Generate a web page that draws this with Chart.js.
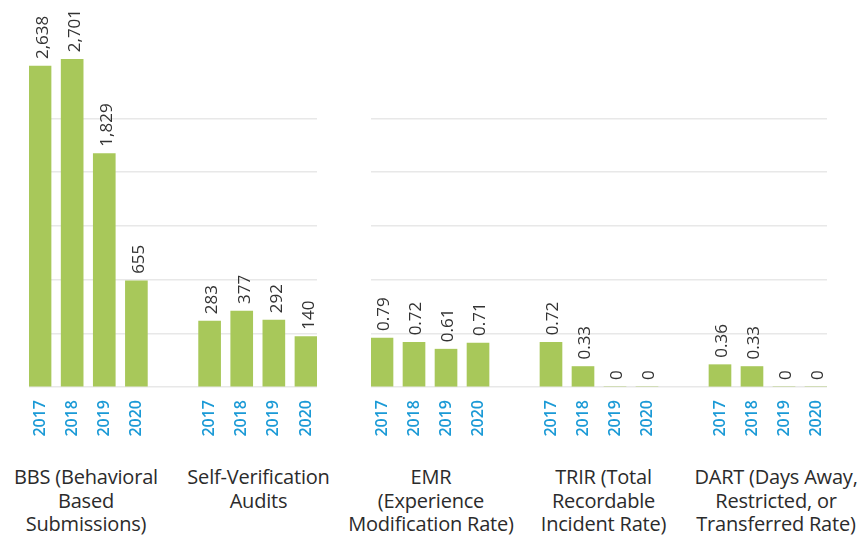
<!DOCTYPE html>
<html>
<head>
<meta charset="utf-8">
<script src="https://cdn.jsdelivr.net/npm/chart.js@4.4.1/dist/chart.umd.min.js"></script>
<style>
body { margin: 0; background: #fff; width: 859px; height: 538px; overflow: hidden; position: relative; font-family: "Open Sans", sans-serif; }
canvas { position: absolute; top: 0; }
#leftChart { left: 0; }
#rightChart { left: 340px; }
.group { position: absolute; top: 465px; width: 190px; margin-left: -95px; text-align: center;
  font-size: 20px; font-weight: 500; line-height: 23.5px; color: #2b2b2b; white-space: nowrap; letter-spacing: -0.2px; }
</style>
</head>
<body>
<canvas id="leftChart" width="340" height="460"></canvas>
<canvas id="rightChart" width="519" height="460"></canvas>
<div id="groups"></div>
<script>
var years = ["2017", "2018", "2019", "2020"];
var groupNames = [
    ["BBS (Behavioral", "Based", "Submissions)"],
    ["Self-Verification", "Audits"],
    ["EMR", "(Experience", "Modification Rate)"],
    ["TRIR (Total", "Recordable", "Incident Rate)"],
    ["DART (Days Away,", "Restricted, or", "Transferred Rate)"]
];
var bbs = [2638, 2701, 1829, 655];
var audits = [283, 377, 292, 140];
var emr = [0.79, 0.72, 0.61, 0.71];
var trir = [0.72, 0.33, 0, 0];
var dart = [0.36, 0.33, 0, 0];

var green = '#a8c85a';
var stride = 5.28;      // distance between groups, in bar slots
var halfBar = 11 / 32;  // half a bar, in bar slots

// rotated value labels above each bar
var barLabels = {
    id: 'barLabels',
    afterDatasetsDraw: function (chart, args, opts) {
        var ctx = chart.ctx;
        var points = chart.data.datasets[0].data;
        ctx.save();
        ctx.font = '17px "Open Sans"';
        ctx.fillStyle = '#333';
        ctx.textAlign = 'left';
        ctx.textBaseline = 'middle';
        chart.getDatasetMeta(0).data.forEach(function (bar, i) {
            ctx.save();
            ctx.translate(bar.x + opts.shift, bar.y - 7);
            ctx.rotate(-Math.PI / 2);
            ctx.fillText(opts.format(points[i].y), 0, 0);
            ctx.restore();
        });
        ctx.restore();
    }
};

function makeChart(id, series, yMin, pxPerUnit, format, shift) {
    var points = [];
    var slots = [];
    series.forEach(function (vals, g) {
        vals.forEach(function (v, i) {
            points.push({ x: g * stride + i, y: v });
            slots.push(g * stride + i);
        });
    });
    var areaHeight = 387;
    var yMax = yMin + areaHeight / pxPerUnit;
    var gridStep = 53.7 / pxPerUnit;

    return new Chart(document.getElementById(id), {
        type: 'bar',
        data: {
            datasets: [{
                data: points,
                backgroundColor: green,
                barThickness: 22,
                base: yMin
            }]
        },
        options: {
            responsive: false,
            animation: false,
            layout: { padding: { top: 0, bottom: 0, left: id == 'leftChart' ? 29 : 31, right: id == 'leftChart' ? 23 : 32 } },
            plugins: {
                legend: { display: false },
                tooltip: { enabled: false },
                barLabels: { format: format, shift: shift }
            },
            scales: {
                x: {
                    type: 'linear',
                    offset: false,
                    min: -halfBar,
                    max: slots[slots.length - 1] + halfBar,
                    grid: { display: false, drawTicks: false },
                    border: { display: false },
                    afterBuildTicks: function (axis) {
                        axis.ticks = slots.map(function (s) { return { value: s }; });
                    },
                    afterFit: function (axis) { axis.height = 460 - areaHeight; },
                    ticks: {
                        autoSkip: false,
                        minRotation: 90,
                        maxRotation: 90,
                        padding: 13,
                        color: '#1b9ad6',
                        font: { family: 'Open Sans', size: 16, weight: '600' },
                        callback: function (value, index) { return years[index % 4]; }
                    }
                },
                y: {
                    min: yMin,
                    max: yMax,
                    border: { display: false },
                    grid: { color: '#e8e8e8', lineWidth: 1.5, drawTicks: false },
                    ticks: { display: false },
                    afterBuildTicks: function (axis) {
                        var t = [];
                        for (var k = 0; k <= 5; k++) t.push({ value: yMin + k * gridStep });
                        axis.ticks = t;
                    },
                    afterFit: function (axis) { axis.width = 0; }
                }
            }
        },
        plugins: [barLabels]
    });
}

makeChart('leftChart', [bbs, audits], -325, 0.10832,
    function (v) { return v.toLocaleString('en-US'); }, 3);
makeChart('rightChart', [emr, trir, dart], 0, 62,
    function (v) { return String(v); }, 2);

// category names under each group
var holder = document.getElementById('groups');
groupNames.forEach(function (lines, i) {
    var d = document.createElement('div');
    d.className = 'group';
    d.style.left = (86 + i * 172.5) + 'px';
    d.innerHTML = lines.join('<br>');
    holder.appendChild(d);
});
</script>
</body>
</html>
